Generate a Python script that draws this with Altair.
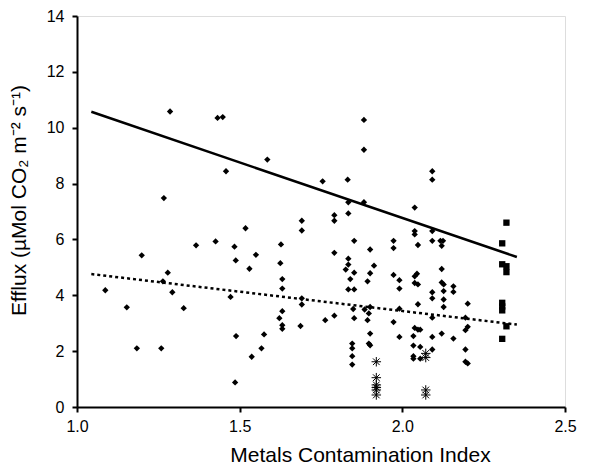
import altair as alt
import pandas as pd

# Diamonds (sites)
dia_x = [1.087, 1.153, 1.184, 1.199, 1.259, 1.267, 1.286, 1.279, 1.264, 1.293,
         1.328, 1.366, 1.426, 1.432, 1.448, 1.458, 1.472, 1.484, 1.488, 1.489,
         1.486, 1.585, 1.518, 1.550, 1.530, 1.537, 1.567, 1.575, 1.627, 1.625,
         1.631, 1.631, 1.631, 1.622, 1.631, 1.631, 1.691, 1.691, 1.691, 1.691,
         1.687, 1.755, 1.763, 1.791, 1.791, 1.791, 1.791, 1.832, 1.834, 1.834,
         1.852, 1.834, 1.834, 1.826, 1.852, 1.840, 1.834, 1.852, 1.849, 1.852,
         1.846, 1.846, 1.846, 1.846, 1.882, 1.882, 1.882, 1.901, 1.913, 1.901,
         1.893, 1.901, 1.884, 1.897, 1.893, 1.901, 1.897, 1.901, 1.973, 1.973,
         1.973, 1.991, 1.991, 1.991, 1.973, 1.991, 2.038, 2.038, 2.038, 2.048,
         2.045, 2.038, 2.038, 2.048, 2.048, 2.038, 2.048, 2.055, 2.034, 2.034,
         2.034, 2.034, 2.055, 2.055, 2.092, 2.092, 2.092, 2.092, 2.092, 2.092,
         2.092, 2.092, 2.092, 2.125, 2.117, 2.121, 2.121, 2.121, 2.127, 2.127,
         2.127, 2.127, 2.121, 2.157, 2.157, 2.157, 2.201, 2.194, 2.201, 2.194,
         2.194, 2.194, 2.201]
dia_y = [4.18, 3.57, 2.10, 5.43, 2.10, 7.48, 10.58, 4.81, 4.50, 4.11,
         3.54, 5.79, 5.93, 10.35, 10.38, 8.44, 3.94, 5.74, 5.25, 2.54,
         0.88, 8.86, 6.40, 5.45, 4.95, 1.80, 2.10, 2.60, 5.82, 5.15,
         4.58, 4.24, 3.43, 3.18, 2.93, 2.80, 6.67, 6.32, 3.89, 3.67,
         2.90, 8.08, 3.11, 6.87, 6.67, 5.52, 3.27, 8.14, 7.33, 6.93,
         5.95, 5.31, 5.10, 4.92, 4.81, 4.58, 4.21, 4.21, 3.51, 3.18,
         2.27, 2.10, 1.82, 1.52, 10.28, 9.21, 7.33, 5.64, 5.06, 4.79,
         4.50, 3.58, 3.49, 3.35, 3.11, 2.63, 2.27, 2.21, 5.95, 5.69,
         4.73, 4.54, 4.24, 3.52, 3.04, 2.51, 7.14, 6.30, 6.18, 5.80,
         4.77, 4.68, 4.44, 4.39, 3.68, 2.83, 2.77, 2.77, 2.54, 2.20,
         1.82, 1.73, 2.15, 1.73, 8.44, 8.14, 6.30, 5.95, 4.11, 3.89,
         3.20, 2.51, 2.06, 5.95, 5.95, 5.77, 4.94, 4.46, 4.39, 4.15,
         3.85, 3.58, 2.63, 4.32, 4.12, 2.45, 3.70, 3.20, 2.87, 2.75,
         2.06, 1.62, 1.56]

# Squares
sq_x = [2.32, 2.307, 2.307, 2.32, 2.32, 2.307, 2.307, 2.307, 2.32, 2.307]
sq_y = [6.60, 5.86, 5.11, 5.04, 4.83, 3.73, 3.60, 3.46, 2.89, 2.44]

# Asterisks
ast_x = [1.920, 1.920, 1.920, 1.920, 1.920, 1.920, 2.072, 2.072, 2.072, 2.072]
ast_y = [1.62, 1.05, 0.79, 0.70, 0.61, 0.43, 1.92, 1.77, 0.61, 0.43]

# Regression lines (endpoints)
line_x = [1.044, 2.352]
solid_y = [10.57, 5.37]
dotted_y = [4.76, 2.95]

dia = pd.DataFrame({"x": dia_x, "y": dia_y})
sq = pd.DataFrame({"x": sq_x, "y": sq_y})
ast = pd.DataFrame({"x": ast_x, "y": ast_y})
solid = pd.DataFrame({"x": line_x, "y": solid_y})
dotted = pd.DataFrame({"x": line_x, "y": dotted_y})

xs = alt.Scale(domain=[1.0, 2.5], nice=False, zero=False)
ys = alt.Scale(domain=[0, 14], nice=False)

FONT = "Liberation Sans"

xenc = alt.X("x:Q", scale=xs, axis=alt.Axis(
    title="Metals Contamination Index", values=[1.0, 1.5, 2.0, 2.5], format=".1f",
    grid=False, domainColor="black", domainWidth=2, tickColor="black", tickWidth=2,
    tickSize=5, labelFont=FONT, labelFontSize=16, labelColor="black", labelFlush=False,
    labelPadding=6, titleFont=FONT, titleFontSize=21, titleX=283, titleAlign="center",
    titleFontWeight="normal", titleColor="black", titlePadding=10))
yenc = alt.Y("y:Q", scale=ys, axis=alt.Axis(
    title="Efflux (µMol CO₂ m⁻² s⁻¹)", values=list(range(0, 15, 2)), format="d",
    grid=False, domainColor="black", domainWidth=2, tickColor="black", tickWidth=2,
    tickSize=5, labelFont=FONT, labelFontSize=16, labelColor="black", labelFlush=False,
    labelPadding=8, titleFont=FONT, titleFontSize=21, titleY=184, titleAlign="center",
    titleFontWeight="normal", titleColor="black", titlePadding=17))

base_x = alt.X("x:Q", scale=xs)
base_y = alt.Y("y:Q", scale=ys)

l_solid = alt.Chart(solid).mark_line(color="black", strokeWidth=2.5).encode(x=xenc, y=yenc)
l_dot = alt.Chart(dotted).mark_line(color="black", strokeWidth=2.5, strokeDash=[3, 3]).encode(x=base_x, y=base_y)
p_dia = alt.Chart(dia).mark_point(shape="diamond", filled=True, color="black", size=40, opacity=1).encode(x=base_x, y=base_y)
p_sq = alt.Chart(sq).mark_point(shape="square", filled=True, color="black", size=40, opacity=1).encode(x=base_x, y=base_y)
p_ast = alt.Chart(ast).mark_point(
    shape="M-1,0L1,0M-0.7,-0.7L0.7,0.7M-0.7,0.7L0.7,-0.7M0,-1L0,1",
    filled=False, color="black", strokeWidth=1, size=90, opacity=1).encode(x=base_x, y=base_y)

chart = (l_solid + l_dot + p_dia + p_sq + p_ast).properties(
    width=488, height=391, padding={"left": 0, "top": 0, "right": 0, "bottom": 0}
).configure_view(stroke=None).configure(background="white")

chart.save("out.html", embed_options={"renderer": "svg", "actions": False})
